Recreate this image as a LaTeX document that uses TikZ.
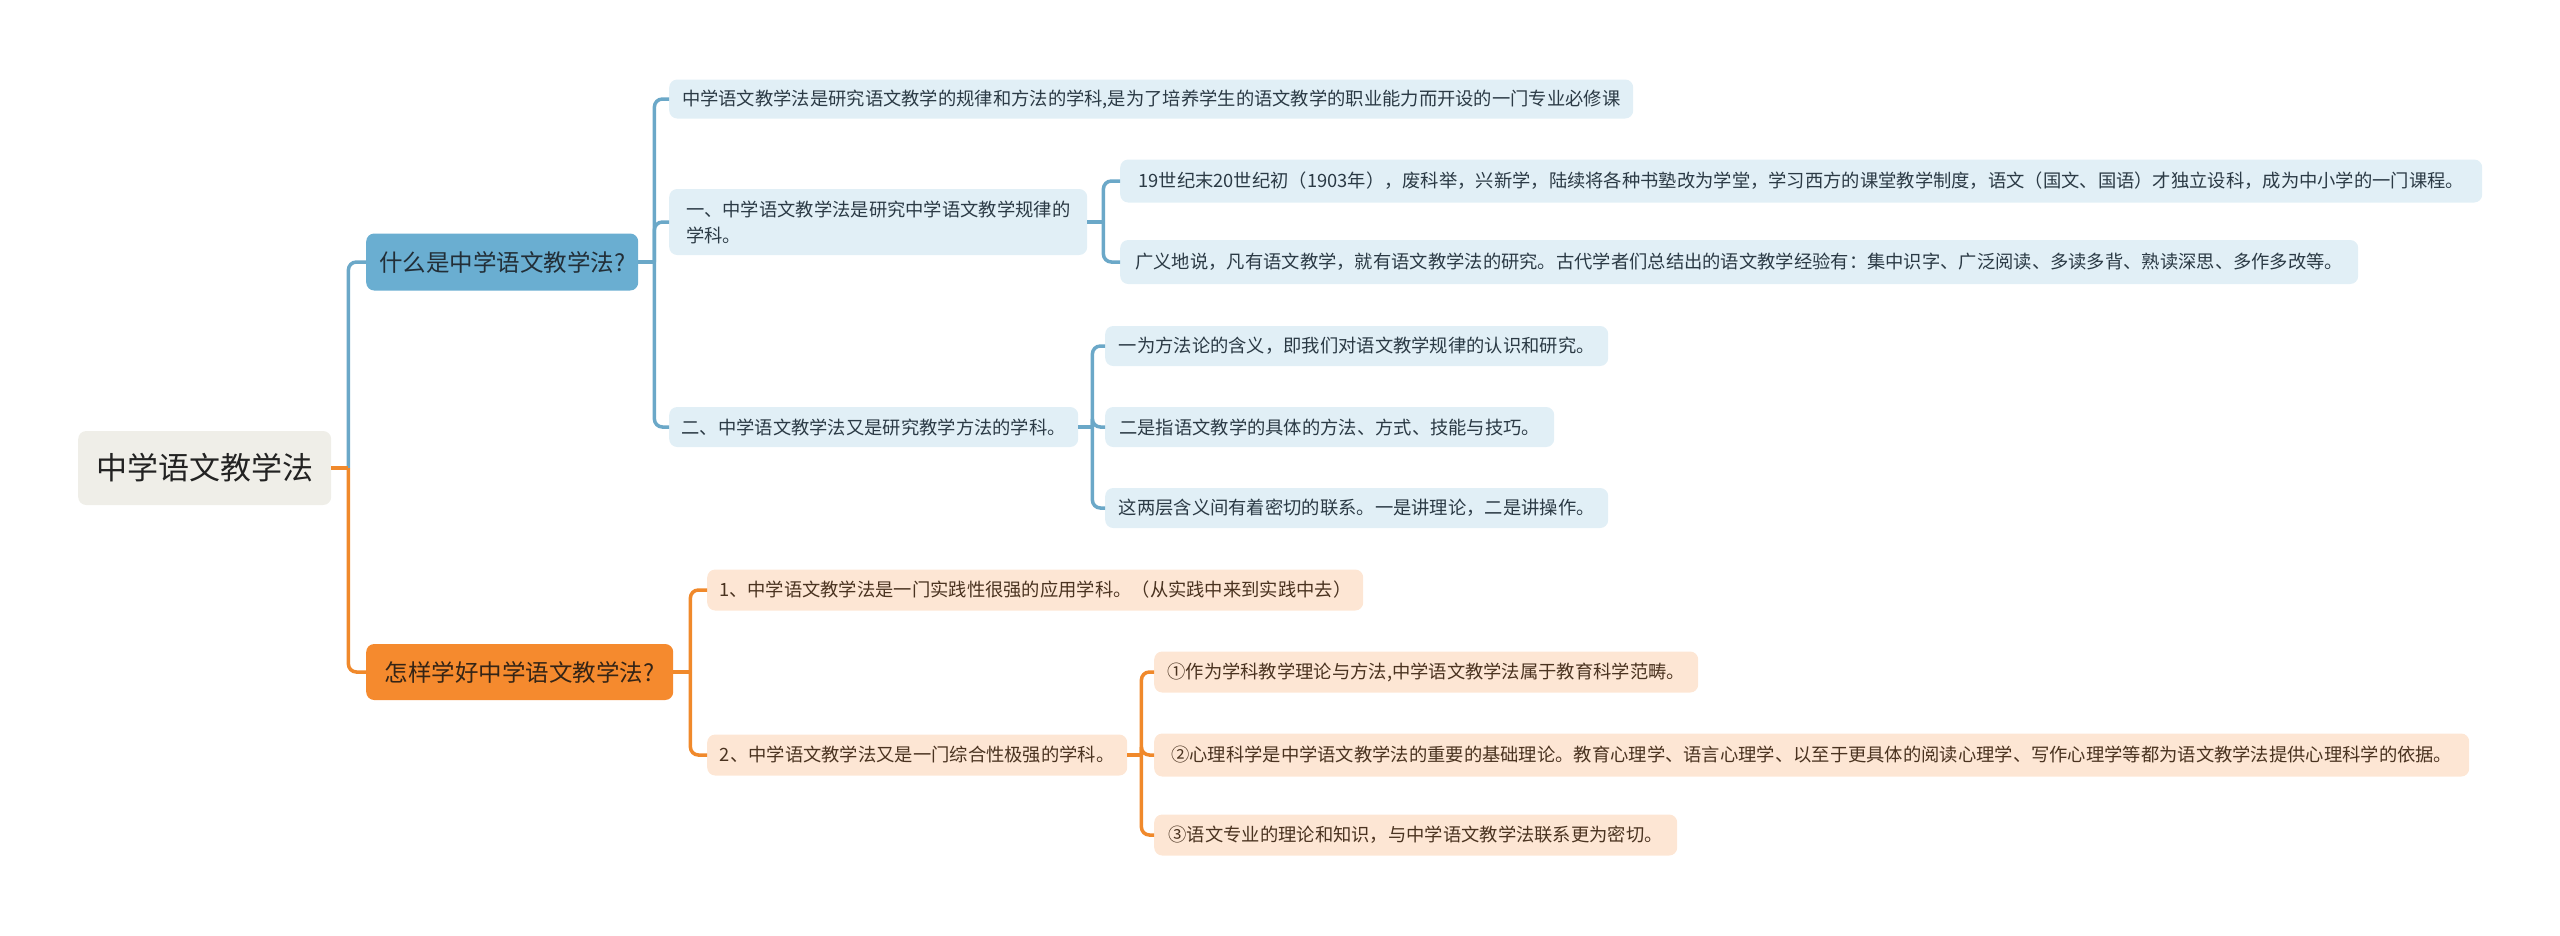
\documentclass[tikz,border=0pt]{standalone}
\usepackage{fontspec}
\setmainfont{Noto Sans CJK SC}
\definecolor{rootfill}{HTML}{EFEEE8}
\definecolor{bluefill}{HTML}{6AAED1}
\definecolor{orangefill}{HTML}{F58A2E}
\definecolor{lightblue}{HTML}{E1EFF6}
\definecolor{lightpeach}{HTML}{FDE6D4}
\definecolor{blueline}{HTML}{6BA8C8}
\definecolor{orangeline}{HTML}{F0892B}
\definecolor{bluetext}{HTML}{2B3A45}
\definecolor{orangetext}{HTML}{4A3320}
\definecolor{roottext}{HTML}{222222}
\begin{document}
\begin{tikzpicture}[x=1pt,y=-1pt,
  basebox/.style={rectangle,rounded corners=8pt,inner xsep=11pt,inner ysep=4pt,anchor=west,align=left},
  rootbox/.style={basebox,fill=rootfill,text=roottext,font=\fontsize{31pt}{36pt}\selectfont,minimum height=74pt},
  qblue/.style={basebox,fill=bluefill,text=bluetext!80!black,font=\fontsize{23.5pt}{28pt}\selectfont,minimum height=57pt},
  qorange/.style={basebox,fill=orangefill,text=orangetext!70!black,font=\fontsize{23.5pt}{28pt}\selectfont,minimum height=56pt},
  lblue/.style={basebox,fill=lightblue,text=bluetext,font=\fontsize{18.3pt}{26pt}\selectfont,minimum height=40pt},
  lorange/.style={basebox,fill=lightpeach,text=orangetext,font=\fontsize{18.3pt}{26pt}\selectfont,minimum height=41pt},
  bconn/.style={draw=blueline,line width=3.5pt,rounded corners=8pt},
  oconn/.style={draw=orangeline,line width=3.5pt,rounded corners=8pt}
]
\useasboundingbox (0,0) rectangle (2560,935);

% root
\node[rootbox,minimum width=253pt] (root) at (78,468) {中学语文教学法};

% level 1
\node[qblue,minimum width=272pt] (q1) at (366,262) {什么是中学语文教学法?};
\node[qorange,minimum width=307pt] (q2) at (366,672) {怎样学好中学语文教学法?};

% blue level 2
\node[lblue,minimum width=964pt,minimum height=39pt] (a1) at (669,99) {中学语文教学法是研究语文教学的规律和方法的学科,是为了培养学生的语文教学的职业能力而开设的一门专业必修课};
\node[lblue,minimum width=418pt,minimum height=66pt] (a2) at (669,222) {一、中学语文教学法是研究中学语文教学规律的\\学科。};
\node[lblue,minimum width=409pt] (a3) at (669,427) {二、中学语文教学法又是研究教学方法的学科。};

% blue level 3
\node[lblue,minimum width=1362pt,minimum height=43pt] (b1) at (1120,181) {19世纪末20世纪初（1903年），废科举，兴新学，陆续将各种书塾改为学堂，学习西方的课堂教学制度，语文（国文、国语）才独立设科，成为中小学的一门课程。};
\node[lblue,minimum width=1238pt,minimum height=44pt] (b2) at (1120,262) {广义地说，凡有语文教学，就有语文教学法的研究。古代学者们总结出的语文教学经验有：集中识字、广泛阅读、多读多背、熟读深思、多作多改等。};
\node[lblue,minimum width=503pt] (c1) at (1105,346) {一为方法论的含义，即我们对语文教学规律的认识和研究。};
\node[lblue,minimum width=449pt] (c2) at (1105,427) {二是指语文教学的具体的方法、方式、技能与技巧。};
\node[lblue,minimum width=503pt] (c3) at (1105,508) {这两层含义间有着密切的联系。一是讲理论，二是讲操作。};

% orange level 2
\node[lorange,minimum width=656pt] (d1) at (707,590) {1、中学语文教学法是一门实践性很强的应用学科。（从实践中来到实践中去）};
\node[lorange,minimum width=420pt] (d2) at (707,755) {2、中学语文教学法又是一门综合性极强的学科。};

% orange level 3
\node[lorange,minimum width=544pt] (e1) at (1154,672) {①作为学科教学理论与方法,中学语文教学法属于教育科学范畴。};
\node[lorange,minimum width=1315pt,minimum height=43pt] (e2) at (1154,755) {②心理科学是中学语文教学法的重要的基础理论。教育心理学、语言心理学、以至于更具体的阅读心理学、写作心理学等都为语文教学法提供心理科学的依据。};
\node[lorange,minimum width=523pt] (e3) at (1154,835) {③语文专业的理论和知识，与中学语文教学法联系更为密切。};

% connectors: root
\coordinate (troot) at ([xshift=17pt]root.east);
\draw[bconn] (troot) |- (q1.west);
\draw[oconn] (troot) |- (q2.west);
\draw[oconn] (root.east) -- (troot);

% q1 -> a*
\coordinate (tq1) at ([xshift=16pt]q1.east);
\draw[bconn] (q1.east) -- (tq1);
\draw[bconn] (tq1) |- (a1.west);
\draw[bconn] (tq1) |- (a2.west);
\draw[bconn] (tq1) |- (a3.west);

% a2 -> b*
\coordinate (ta2) at ([xshift=16pt]a2.east);
\draw[bconn] (a2.east) -- (ta2);
\draw[bconn] (ta2) |- (b1.west);
\draw[bconn] (ta2) |- (b2.west);

% a3 -> c*
\coordinate (ta3) at ([xshift=14pt]a3.east);
\draw[bconn] (a3.east) -- (ta3);
\draw[bconn] (ta3) |- (c1.west);
\draw[bconn] (ta3) |- (c2.west);
\draw[bconn] (ta3) |- (c3.west);

% q2 -> d*
\coordinate (tq2) at ([xshift=17pt]q2.east);
\draw[oconn] (q2.east) -- (tq2);
\draw[oconn] (tq2) |- (d1.west);
\draw[oconn] (tq2) |- (d2.west);

% d2 -> e*
\coordinate (td2) at ([xshift=14pt]d2.east);
\draw[oconn] (d2.east) -- (td2);
\draw[oconn] (td2) |- (e1.west);
\draw[oconn] (td2) |- (e2.west);
\draw[oconn] (td2) |- (e3.west);
\end{tikzpicture}
\end{document}
